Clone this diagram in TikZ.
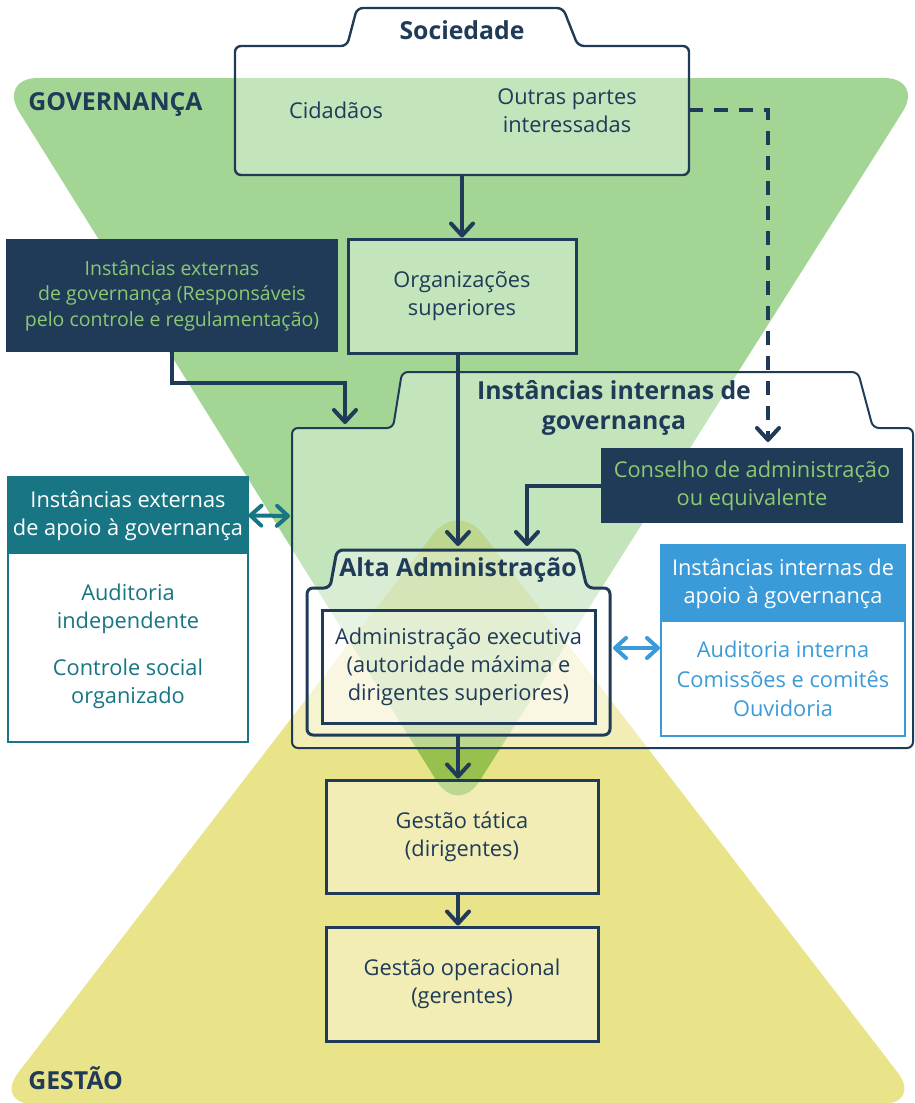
\documentclass[tikz,border=0pt]{standalone}
\usepackage{fontspec}
\setmainfont{Open Sans}
\usetikzlibrary{positioning, arrows.meta, backgrounds}
\definecolor{azul}{HTML}{1F3B58}
\definecolor{verdegov}{HTML}{A3D594}
\definecolor{amarelogest}{HTML}{E9E48A}
\definecolor{verdelente}{HTML}{98C04E}
\definecolor{verdetexto}{HTML}{8DC873}
\definecolor{petroleo}{HTML}{177584}
\definecolor{celeste}{HTML}{3A9BD8}
\tikzstyle{caixa} = [rectangle, draw=azul, line width=1.5pt, fill=white, fill opacity=0.37, text opacity=1, text=azul, align=center]
\tikzstyle{escura} = [rectangle, fill=azul, text=verdetexto, align=center]
\tikzstyle{aba} = [draw=azul, fill=white, fill opacity=0.37, rounded corners=3pt]
\tikzstyle{titulo} = [text=azul, font=\bfseries\fontsize{12.4}{15}\selectfont, align=center]
\tikzstyle{seta} = [draw=azul, line width=2pt, -{Straight Barb[round, length=6pt, width=11pt]}]
\tikzstyle{dupla} = [line width=2pt, {Straight Barb[round, length=5.5pt, width=10pt]}-{Straight Barb[round, length=5.5pt, width=10pt]}]

\begin{document}
\begin{tikzpicture}[x=0.5pt, y=-0.5pt,
    every node/.style={inner sep=0pt, font=\fontsize{10.9}{14}\selectfont}]
    \useasboundingbox (0,0) rectangle (915,1103);
    \clip (0,0) rectangle (915,1103);

    \fill[amarelogest, rounded corners=20pt] (458,502) -- (922,1104) -- (-6,1104) -- cycle;
    \fill[verdegov, rounded corners=20pt] (-2,78) -- (924,78) -- (458,815) -- cycle;
    \begin{scope}
        \clip[rounded corners=20pt] (-2,78) -- (924,78) -- (458,815) -- cycle;
        \fill[verdelente, rounded corners=20pt] (458,502) -- (922,1104) -- (-6,1104) -- cycle;
    \end{scope}

    \node[titulo, anchor=base west] (governanca) at (28,110) {GOVERNANÇA};
    \node[titulo, anchor=base west] (gestao) at (28,1089) {GESTÃO};

    \draw[aba, line width=1.2pt] (235,46) -- (347,46) -- (357,8) -- (563,8) -- (578,46)
        -- (689,46) -- (689,175) -- (235,175) -- cycle;
    \node[titulo] (sociedade) at (462,30) {Sociedade};
    \node[text=azul] (cidadaos) at (336,110) {Cidadãos};
    \node[text=azul, align=center] (outras) at (567,111) {Outras partes\\interessadas};
    \coordinate (sociedade-base) at (462,175);
    \coordinate (sociedade-dir) at (689,110);

    \node[caixa, minimum width=114pt, minimum height=57pt] (superiores) at (462,296) {Organizações\\superiores};
    \node[escura, minimum width=166pt, minimum height=56.5pt, font=\fontsize{9.75}{12.75}\selectfont]
        (extgov) at (172,295.5) {Instâncias externas\\de governança (Responsáveis\\pelo controle e regulamentação)};

    \draw[aba, line width=1pt] (292,428) -- (393,428) -- (402,372) -- (858,372) -- (873,428)
        -- (913,428) -- (913,748) -- (292,748) -- cycle;
    \node[titulo] (internas) at (614,408) {Instâncias internas de\\governança};
    \coordinate (internas-aba) at (345,424);
    \coordinate (internas-esq) at (290,516);

    \node[escura, minimum width=151pt, minimum height=37.5pt] (conselho) at (752,485.5) {Conselho de administração\\ou equivalente};
    \coordinate (conselho-topo) at (768,442);

    \draw[aba, line width=1.5pt] (307,588) -- (330,588) -- (337,550) -- (578,550) -- (587,588)
        -- (610,588) -- (610,735) -- (307,735) -- cycle;
    \node[titulo] (alta) at (458,570) {Alta Administração};
    \coordinate (alta-topo) at (458,546);
    \coordinate (alta-conselho) at (527,546);
    \coordinate (alta-base) at (458,735);
    \coordinate (alta-dir) at (613,648);

    \node[caixa, minimum width=136.5pt, minimum height=56.5pt] (executiva) at (458.5,666.5)
        {Administração executiva\\(autoridade máxima e\\dirigentes superiores)};

    \node[caixa, minimum width=136pt, minimum height=56.5pt] (tatica) at (462,836.5) {Gestão tática\\(dirigentes)};
    \node[caixa, minimum width=136pt, minimum height=57pt] (operacional) at (462,984) {Gestão operacional\\(gerentes)};

    \node[rectangle, draw=petroleo, line width=1pt, fill=white, minimum width=120pt, minimum height=132.5pt] (extapoio) at (128,609.5) {};
    \node[rectangle, fill=petroleo, text=white, align=center, minimum width=120pt, minimum height=39pt, anchor=north]
        (extapoio-cab) at (extapoio.north) {Instâncias externas\\de apoio à governança};
    \node[text=petroleo, align=center] (auditoria) at (128,609) {Auditoria\\independente};
    \node[text=petroleo, align=center] (controle) at (128,684) {Controle social\\organizado};

    \node[rectangle, draw=celeste, line width=1pt, fill=white, minimum width=122pt, minimum height=95.5pt] (intapoio) at (783,640.5) {};
    \node[rectangle, fill=celeste, text=white, align=center, minimum width=122pt, minimum height=39pt, anchor=north]
        (intapoio-cab) at (intapoio.north) {Instâncias internas de\\apoio à governança};
    \node[text=celeste, align=center, font=\fontsize{10.9}{14.75}\selectfont] (ouvidoria) at (783,679)
        {Auditoria interna\\Comissões e comitês\\Ouvidoria};

    \draw[seta] (sociedade-base) -- (superiores);
    \draw[seta] (extgov.south) |- (345,383) -- (internas-aba);
    \draw[seta] (superiores.south -| alta-topo) -- (alta-topo);
    \draw[seta] (conselho.west) -| (alta-conselho);
    \draw[seta, dash pattern=on 7pt off 5.5pt] (sociedade-dir) -| (conselho-topo);
    \draw[seta] (alta-base) -- (alta-base |- tatica.north);
    \draw[seta] (tatica.south -| alta-base) -- (operacional.north -| alta-base);
    \draw[dupla, petroleo] (extapoio-cab.east) -- (internas-esq);
    \draw[dupla, celeste] (alta-dir) -- (intapoio.west |- alta-dir);
\end{tikzpicture}
\end{document}
